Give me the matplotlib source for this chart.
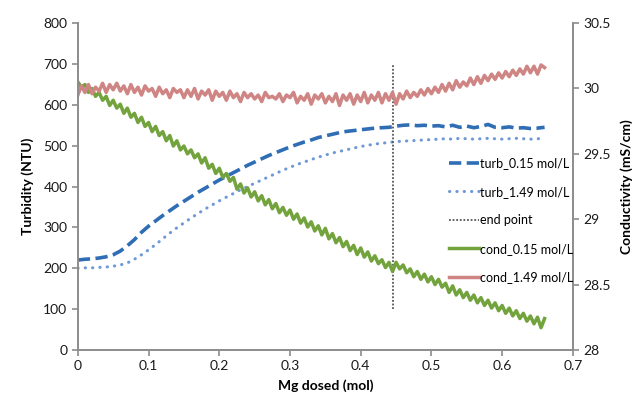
import numpy as np
import matplotlib
matplotlib.use("Agg")
import matplotlib.pyplot as plt

plt.rcParams['font.family'] = ['Lato', 'DejaVu Sans']

# ---- data ----
# turbidity, sampled every 0.01 mol
x_turb = np.round(np.arange(0, 0.661, 0.01), 3)
turb_015 = [220, 222, 223, 225, 228, 233, 242, 255, 270, 288,
            303, 316, 329, 341, 353, 364, 375, 386, 396, 406,
            416, 425, 434, 443, 452, 460, 468, 476, 483, 490,
            497, 503, 509, 514, 520, 524, 528, 532, 535, 537,
            539, 541, 543, 544, 545, 548, 550, 551, 549, 550,
            548, 549, 546, 550, 545, 548, 544, 547, 552, 545,
            544, 546, 543, 544, 542, 543, 545]
turb_149 = [200, 201, 201, 202, 203, 205, 208, 213, 222, 233,
            245, 258, 272, 286, 299, 311, 323, 334, 345, 355,
            365, 374, 383, 392, 400, 408, 416, 424, 432, 440,
            447, 454, 460, 466, 472, 477, 482, 486, 490, 494,
            498, 501, 504, 506, 508, 510, 511, 512, 513, 514,
            515, 516, 517, 516, 518, 517, 516, 517, 518, 517,
            516, 517, 518, 517, 516, 517, 518]

# conductivity, sampled every 0.005 mol
x_cond = np.round(np.arange(0, 0.6601, 0.005), 3)
cond_015 = [30.05, 30.01, 30.03, 29.97, 30.00, 29.94, 29.97, 29.91, 29.94, 29.87,
            29.91, 29.85, 29.88, 29.81, 29.85, 29.78, 29.81, 29.74, 29.78, 29.71,
            29.74, 29.67, 29.71, 29.64, 29.67, 29.60, 29.64, 29.56, 29.60, 29.53,
            29.56, 29.50, 29.53, 29.47, 29.50, 29.43, 29.47, 29.39, 29.42, 29.35,
            29.39, 29.32, 29.35, 29.29, 29.32, 29.23, 29.27, 29.20, 29.24, 29.17,
            29.21, 29.14, 29.18, 29.11, 29.15, 29.08, 29.12, 29.05, 29.09, 29.03,
            29.07, 29.00, 29.04, 28.97, 29.01, 28.94, 28.98, 28.91, 28.95, 28.88,
            28.93, 28.85, 28.89, 28.82, 28.86, 28.79, 28.83, 28.76, 28.80, 28.73,
            28.78, 28.71, 28.75, 28.68, 28.72, 28.66, 28.69, 28.63, 28.67, 28.60,
            28.67, 28.62, 28.65, 28.59, 28.62, 28.56, 28.60, 28.54, 28.58, 28.52,
            28.56, 28.50, 28.54, 28.48, 28.51, 28.44, 28.49, 28.42, 28.46, 28.40,
            28.44, 28.38, 28.42, 28.36, 28.40, 28.34, 28.38, 28.32, 28.36, 28.30,
            28.34, 28.28, 28.32, 28.26, 28.30, 28.24, 28.28, 28.22, 28.26, 28.20,
            28.25, 28.17, 28.24]
cond_149 = [29.95, 30.02, 29.97, 30.03, 29.96, 30.01, 29.98, 30.04, 29.97, 30.03,
            29.99, 30.04, 29.98, 30.02, 29.96, 30.03, 29.97, 30.01, 29.95, 30.02,
            29.98, 30.00, 29.94, 30.01, 29.96, 29.99, 29.93, 30.00, 29.97, 29.99,
            29.93, 29.99, 29.94, 30.00, 29.92, 29.98, 29.95, 29.99, 29.91, 29.98,
            29.94, 29.97, 29.91, 29.98, 29.93, 29.96, 29.90, 29.97, 29.93, 29.96,
            29.92, 29.95, 29.90, 29.97, 29.93, 29.94, 29.92, 29.96, 29.90, 29.95,
            29.93, 29.97, 29.89, 29.94, 29.91, 29.96, 29.88, 29.95, 29.92, 29.96,
            29.89, 29.94, 29.90, 29.96, 29.87, 29.95, 29.91, 29.96, 29.88, 29.95,
            29.90, 29.97, 29.89, 29.95, 29.91, 29.97, 29.89, 29.96, 29.91, 29.97,
            29.88, 29.96, 29.92, 29.98, 29.93, 29.97, 29.94, 29.99, 29.95, 30.00,
            29.96, 30.01, 29.97, 30.03, 29.98, 30.04, 29.99, 30.06, 30.01, 30.05,
            30.02, 30.08, 30.03, 30.09, 30.04, 30.10, 30.06, 30.11, 30.07, 30.12,
            30.08, 30.13, 30.09, 30.14, 30.10, 30.15, 30.11, 30.17, 30.12, 30.17,
            30.11, 30.18, 30.16]

end_x = [0.445, 0.445]
end_y = [100, 700]

# ---- plot ----
fig = plt.figure(figsize=(6.33, 3.99), dpi=100)
ax = fig.add_axes([0.123, 0.123, 0.782, 0.819])
ax2 = ax.twinx()

l1, = ax.plot(x_turb, turb_015, color='#2F6DB5', lw=2.6, ls=(0, (3.4, 1.5)),
              label='turb_0.15 mol/L')
l2, = ax.plot(x_turb, turb_149, color='#6E98D6', lw=2.2, ls=(0, (0.1, 2.3)),
              dash_capstyle='round', label='turb_1.49 mol/L')
l3, = ax.plot(end_x, end_y, color='#555555', lw=1.3, ls=(0, (1, 1)),
              label='end point')
l4, = ax2.plot(x_cond, cond_015, color='#72A33D', lw=2.5, label='cond_0.15 mol/L')
l5, = ax2.plot(x_cond, cond_149, color='#CF8583', lw=2.5, label='cond_1.49 mol/L')

ax.set_xlim(0, 0.7)
ax.set_ylim(0, 800)
ax2.set_ylim(28, 30.5)
ax.set_xticks(np.arange(0, 0.71, 0.1))
ax.set_xticklabels(['0', '0.1', '0.2', '0.3', '0.4', '0.5', '0.6', '0.7'])
ax.set_yticks(np.arange(0, 801, 100))
ax2.set_yticks([28, 28.5, 29, 29.5, 30, 30.5])
ax2.set_yticklabels(['28', '28.5', '29', '29.5', '30', '30.5'])

for a in (ax, ax2):
    a.spines['top'].set_visible(False)
    for s in ('left', 'right', 'bottom'):
        a.spines[s].set_color('#8C8C8C')
        a.spines[s].set_linewidth(1.2)
    a.tick_params(direction='out', length=4, width=1.2, color='#8C8C8C',
                  labelsize=10, labelcolor='#1A1A1A')

ax.set_xlabel('Mg dosed (mol)', fontsize=10, fontweight='bold', labelpad=5)
ax.set_ylabel('Turbidity (NTU)', fontsize=10, fontweight='bold', labelpad=7)
ax2.set_ylabel('Conductivity (mS/cm)', fontsize=10, fontweight='bold', labelpad=7)

ax2.legend(handles=[l1, l2, l3, l4, l5], loc='upper left',
           bbox_to_anchor=(0.74, 0.605), frameon=False, fontsize=9,
           handlelength=2.4, handletextpad=0.1, labelspacing=1.32,
           borderaxespad=0)

fig.savefig('out.png', dpi=100)
